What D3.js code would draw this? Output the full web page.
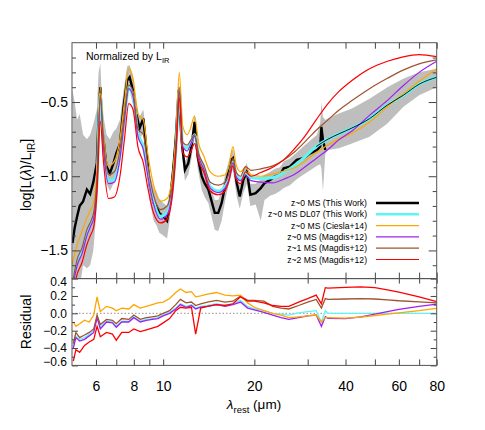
<!DOCTYPE html>
<html>
<head>
<meta charset="utf-8">
<title>SED normalized by LIR</title>
<script src="https://d3js.org/d3.v7.min.js"></script>
<style>
  body { margin: 0; background: #fff; }
  svg text { font-family: "Liberation Sans", Arial, Helvetica, sans-serif; fill: #000; }
  .axis line { stroke: #444; }
  .axis text { font-size: 14px; }
  .axis.res text { font-size: 12px; }
</style>
</head>
<body>
<div id="main"></div>
<script>
// wavelength grid of the model templates (micron)
var modelLambda = [5.0, 5.2, 5.4, 5.6, 5.75, 5.9, 6.05, 6.2, 6.35, 6.6, 6.9, 7.2, 7.45, 7.7, 7.95, 8.25, 8.6, 8.9, 9.3, 9.8,
  10.3, 10.8, 11.05, 11.3, 11.6, 12.0, 12.3, 12.7, 13.1, 13.6, 14.3, 15.2, 16.0, 16.5, 17.0, 17.4, 18.0, 18.7, 19.5, 21,
  23, 25, 27, 29, 32, 35, 38, 42, 48, 55, 62, 70, 80];
var dl07 = [-1.76, -1.58, -1.50, -1.38, -1.32, -1.26, -1.03, -0.45, -0.78, -1.03, -1.02, -0.86, -0.61, -0.40, -0.45, -0.71, -0.80, -0.98, -1.17, -1.27,
  -1.245, -1.03, -0.77, -0.42, -0.79, -0.81, -0.78, -0.72, -0.86, -0.94, -1.07, -1.10, -1.07, -1.01, -0.90, -0.99, -1.02, -0.975, -1.01, -1.015,
  -1.01, -0.975, -0.93, -0.879, -0.80, -0.75, -0.715, -0.675, -0.612, -0.52, -0.455, -0.38, -0.333];
var ciesla14 = [-1.60, -1.46, -1.37, -1.28, -1.23, -1.17, -0.95, -0.40, -0.72, -0.93, -0.90, -0.75, -0.50, -0.275, -0.34, -0.58, -0.62, -0.85, -1.06, -1.17,
  -1.15, -0.95, -0.70, -0.30, -0.66, -0.72, -0.68, -0.595, -0.78, -0.86, -0.97, -1.0, -0.99, -0.93, -0.80, -0.92, -0.97, -0.94, -0.99, -1.0,
  -0.985, -0.965, -0.945, -0.905, -0.84, -0.79, -0.75, -0.71, -0.635, -0.53, -0.445, -0.36, -0.275];
var magdisZ0 = [-1.78, -1.60, -1.52, -1.40, -1.34, -1.28, -1.05, -0.47, -0.80, -1.05, -1.04, -0.88, -0.62, -0.41, -0.46, -0.73, -0.82, -1.00, -1.19, -1.29,
  -1.26, -1.04, -0.78, -0.43, -0.80, -0.83, -0.79, -0.73, -0.87, -0.95, -1.08, -1.11, -1.08, -1.02, -0.91, -1.0, -1.03, -0.995, -1.03, -1.04,
  -1.045, -1.02, -0.99, -0.946, -0.88, -0.82, -0.755, -0.695, -0.59, -0.489, -0.39, -0.30, -0.225];
var magdisZ1 = [-1.74, -1.56, -1.48, -1.36, -1.31, -1.24, -1.0, -0.45, -0.75, -0.99, -0.97, -0.82, -0.58, -0.385, -0.43, -0.68, -0.72, -0.93, -1.13, -1.225,
  -1.20, -1.0, -0.75, -0.40, -0.77, -0.79, -0.76, -0.72, -0.85, -0.92, -1.04, -1.06, -1.04, -0.98, -0.88, -0.97, -1.0, -0.935, -0.96, -0.95,
  -0.93, -0.89, -0.84, -0.78, -0.69, -0.62, -0.555, -0.49, -0.41, -0.34, -0.285, -0.243, -0.216];
var magdisZ2 = [-1.82, -1.66, -1.58, -1.46, -1.40, -1.34, -1.10, -0.63, -0.90, -1.15, -1.14, -1.0, -0.75, -0.51, -0.55, -0.80, -0.91, -1.08, -1.25, -1.315,
  -1.29, -1.07, -0.80, -0.47, -0.84, -0.87, -0.84, -0.78, -0.90, -0.97, -1.10, -1.125, -1.10, -1.03, -0.93, -1.02, -1.05, -0.97, -1.0, -0.975,
  -0.94, -0.89, -0.82, -0.745, -0.62, -0.51, -0.43, -0.355, -0.276, -0.225, -0.195, -0.18, -0.194];

// stacked spectrum (This Work)
var dataLambda = [5.02, 5.1, 5.2, 5.3, 5.44, 5.6, 5.74, 5.88, 6.04, 6.12, 6.2, 6.3, 6.5, 6.67, 6.85, 7.0, 7.2, 7.4, 7.6, 7.75,
  7.95, 8.2, 8.35, 8.6, 8.8, 9.0, 9.3, 9.5, 9.7, 10.0, 10.3, 10.5, 10.8, 11.0, 11.25, 11.5, 11.8, 12.1, 12.4, 12.7,
  13.0, 13.4, 13.7, 14.1, 14.4, 14.8, 15.2, 15.6, 16.0, 16.4, 16.8, 17.0, 17.5, 17.9, 18.4, 18.9, 19.4, 20.2, 21.0, 21.6,
  22.6, 23.4, 24.3, 25.0, 26.2, 27.6, 29.0, 30.6, 32.2, 33.0, 33.3, 33.7, 34.3];
var dataLum = [-1.45, -1.35, -1.27, -1.20, -1.17, -1.09, -1.12, -1.04, -0.91, -0.60, -0.40, -0.69, -0.935, -0.98, -0.913, -0.846, -0.78, -0.533, -0.355, -0.333,
  -0.422, -0.60, -0.678, -0.611, -0.823, -1.047, -1.18, -1.20, -1.247, -1.27, -1.30, -1.20, -0.95, -0.75, -0.42, -0.757, -0.957, -0.913, -0.80, -0.634,
  -0.868, -1.0, -1.047, -1.09, -1.158, -1.247, -1.247, -1.18, -1.069, -0.98, -0.89, -0.879, -1.047, -1.136, -1.024, -0.969, -1.125, -1.114, -1.08, -1.047,
  -1.024, -1.0, -0.99, -0.946, -0.935, -0.89, -0.879, -0.846, -0.823, -0.80, -0.667, -0.757, -0.823];

// grey scatter band of the individual spectra
var bandLambda = [5.02, 5.1, 5.2, 5.3, 5.44, 5.6, 5.74, 5.88, 6.04, 6.12, 6.2, 6.3, 6.5, 6.67, 6.85, 7.0, 7.2, 7.4, 7.6, 7.75,
  7.95, 8.2, 8.35, 8.6, 8.8, 9.0, 9.3, 9.5, 9.7, 10.0, 10.3, 10.5, 10.8, 11.0, 11.25, 11.5, 11.8, 12.1, 12.4, 12.7,
  13.0, 13.4, 13.7, 14.1, 14.4, 14.8, 15.2, 15.6, 16.0, 16.4, 16.8, 17.0, 17.5, 17.9, 18.4, 18.9, 19.4, 20.2, 21.0, 21.6,
  22.6, 23.4, 24.3, 25.0, 26.2, 27.6, 29.0, 30.6, 32.2, 33.0, 33.3, 33.7, 34.3, 35, 38, 42, 48, 55, 62, 70, 80];
var bandHi = [-0.42, -0.50, -0.62, -0.58, -0.72, -0.75, -0.72, -0.65, -0.55, -0.30, -0.24, -0.55, -0.72, -0.75, -0.70, -0.68, -0.62, -0.42, -0.26, -0.25,
  -0.33, -0.52, -0.60, -0.55, -0.72, -0.97, -1.08, -1.10, -1.15, -1.18, -1.20, -1.10, -0.88, -0.68, -0.36, -0.68, -0.90, -0.85, -0.74, -0.58,
  -0.80, -0.93, -0.98, -1.02, -1.08, -1.16, -1.16, -1.10, -0.99, -0.91, -0.83, -0.82, -0.97, -1.06, -0.96, -0.91, -1.05, -1.05, -1.02, -0.99,
  -0.97, -0.95, -0.94, -0.90, -0.88, -0.84, -0.80, -0.76, -0.72, -0.64, -0.50, -0.60, -0.62, -0.61, -0.578, -0.544, -0.477, -0.40, -0.343, -0.299, -0.276];
var bandLo = [-1.75, -1.75, -1.75, -1.75, -1.60, -1.62, -1.60, -1.50, -1.20, -0.85, -0.55, -0.85, -1.05, -1.10, -1.05, -0.98, -0.90, -0.65, -0.45, -0.42,
  -0.52, -0.70, -0.76, -0.70, -0.92, -1.15, -1.30, -1.33, -1.38, -1.40, -1.42, -1.30, -1.05, -0.85, -0.52, -0.84, -1.03, -0.99, -0.88, -0.72,
  -0.95, -1.09, -1.14, -1.18, -1.26, -1.36, -1.37, -1.30, -1.17, -1.07, -0.97, -0.96, -1.14, -1.22, -1.11, -1.05, -1.20, -1.19, -1.30, -1.16,
  -1.13, -1.12, -1.10, -1.08, -1.06, -1.02, -0.99, -0.96, -0.93, -0.92, -0.95, -1.10, -0.85, -0.823, -0.812, -0.779, -0.734, -0.645, -0.533, -0.455, -0.40];

// residuals (model - data)
var resLambda = [5.05, 5.15, 5.3, 5.5, 5.7, 5.9, 6.05, 6.2, 6.5, 6.8, 7.0, 7.3, 7.7, 8.0, 8.4, 8.8, 9.2, 9.6, 10.0, 10.5,
  11.0, 11.4, 11.9, 12.4, 12.8, 13.3, 14.0, 15.0, 16.0, 17.0, 18.0, 19.0, 20.0, 21.5, 23, 24.5, 26, 28, 30, 32,
  33.3, 34.3, 35, 40, 45, 50, 55, 60, 70, 80];
var resCiesla14 = [-0.10, -0.15, -0.12, -0.08, -0.10, -0.02, 0.19, 0.02, 0.08, 0.06, 0.03, 0.06, 0.05, 0.10, 0.06, 0.08, 0.10, 0.12, 0.13, 0.17,
  0.24, 0.28, 0.24, 0.25, 0.19, 0.20, 0.22, 0.24, 0.21, 0.20, 0.21, 0.12, 0.07, 0.03, 0.0, -0.02, -0.05, -0.04, -0.03, -0.02,
  -0.10, -0.05, -0.05, -0.055, -0.045, -0.025, -0.01, 0.005, 0.03, 0.058];
var resDL07 = [-0.38, -0.26, -0.30, -0.28, -0.24, -0.20, -0.04, -0.16, -0.09, -0.10, -0.15, -0.09, -0.09, -0.04, -0.09, -0.07, -0.06, -0.05, -0.02, 0.01,
  0.06, 0.11, 0.08, 0.10, 0.06, 0.08, 0.09, 0.11, 0.09, 0.11, 0.15, 0.08, 0.05, 0.03, 0.0, -0.01, -0.02, 0.005, 0.02, 0.03,
  -0.10, 0.03, 0, 0, 0, 0, 0, 0, 0, 0];
var resMagdisZ0 = [-0.40, -0.28, -0.32, -0.30, -0.26, -0.22, -0.05, -0.18, -0.10, -0.11, -0.16, -0.10, -0.10, -0.05, -0.10, -0.08, -0.07, -0.06, -0.03, 0.0,
  0.05, 0.10, 0.07, 0.09, 0.05, 0.07, 0.08, 0.10, 0.08, 0.10, 0.13, 0.06, 0.04, 0.01, -0.02, -0.05, -0.07, -0.05, -0.03, -0.02,
  -0.15, -0.04, -0.058, -0.06, -0.04, -0.01, 0.02, 0.046, 0.08, 0.107];
var resMagdisZ1 = [-0.35, -0.22, -0.28, -0.25, -0.22, -0.18, -0.02, -0.13, -0.07, -0.08, -0.12, -0.06, -0.07, -0.02, -0.07, -0.05, -0.04, -0.03, 0.0, 0.03,
  0.10, 0.16, 0.12, 0.13, 0.09, 0.11, 0.13, 0.15, 0.13, 0.14, 0.20, 0.15, 0.15, 0.14, 0.08, 0.06, 0.05, 0.09, 0.13, 0.16,
  0.06, 0.17, 0.16, 0.165, 0.17, 0.165, 0.155, 0.145, 0.133, 0.12];
var resMagdisZ2 = [-0.55, -0.42, -0.45, -0.37, -0.33, -0.30, -0.15, -0.27, -0.22, -0.24, -0.31, -0.22, -0.22, -0.18, -0.21, -0.19, -0.17, -0.15, -0.11, -0.06,
  0.03, 0.07, 0.06, 0.07, -0.24, 0.06, 0.08, 0.10, 0.09, 0.11, 0.19, 0.14, 0.14, 0.12, 0.09, 0.08, 0.08, 0.13, 0.17, 0.21,
  0.11, 0.295, 0.29, 0.30, 0.305, 0.295, 0.27, 0.245, 0.19, 0.134];

// ticks and legend
var xMajorTicks = [6, 8, 10, 20, 40, 60, 80];
var xMinorTicks = [7, 9, 30, 50, 70];
var topMajorTicks = [-1.5, -1.0, -0.5];
var topMinorTicks = [-1.6, -1.4, -1.3, -1.2, -1.1, -0.9, -0.8, -0.7, -0.6, -0.4, -0.3, -0.2];
var resTicks = [0.4, 0.2, 0.0, -0.2, -0.4, -0.6];
var resMinorTicks = [0.3, 0.1, -0.1, -0.3, -0.5];
var legendLabels = ["z~0 MS (This Work)", "z~0 MS DL07 (This Work)", "z~0 MS (Ciesla+14)",
  "z~0 MS (Magdis+12)", "z~1 MS (Magdis+12)", "z~2 MS (Magdis+12)"];
var legendColors = ["#000000", "#5ff5f5", "#ffa500", "#a020f0", "#a0522d", "#ff0000"];

var svgWidth = 485, svgHeight = 430;
var left = 72, right = 436.7;
var topY = 42.7, midY = 278.6, botY = 365.4;

var svg = d3.select("#main").append("svg")
  .attr("width", svgWidth).attr("height", svgHeight);

var x = d3.scaleLog().domain([5, 80]).range([left, right]);
var yTop = d3.scaleLinear().domain([-1.69, -0.1]).range([midY, topY]);
var yRes = d3.scaleLinear().domain([-0.6, 0.4]).range([botY, midY]);

var defs = svg.append("defs");
defs.append("clipPath").attr("id", "clipTop").append("rect")
  .attr("x", left).attr("y", topY).attr("width", right - left).attr("height", midY - topY);
defs.append("clipPath").attr("id", "clipRes").append("rect")
  .attr("x", left).attr("y", midY).attr("width", right - left).attr("height", botY - midY);

var gTop = svg.append("g").attr("clip-path", "url(#clipTop)");
var gRes = svg.append("g").attr("clip-path", "url(#clipRes)");

// grey band
var band = d3.area()
  .x(function(d, i) { return x(bandLambda[i]); })
  .y0(function(d, i) { return yTop(bandLo[i]); })
  .y1(function(d, i) { return yTop(bandHi[i]); });
gTop.append("path").attr("d", band(bandLambda))
  .style("fill", "#bebebe").style("stroke", "none");

function lineOf(xs, ys, yScale, curve) {
  return d3.line()
    .x(function(d, i) { return x(xs[i]); })
    .y(function(d, i) { return yScale(ys[i]); })
    .curve(curve)(xs);
}

// stacked data
gTop.append("path").attr("d", lineOf(dataLambda, dataLum, yTop, d3.curveLinear))
  .style("fill", "none").style("stroke", "#000").style("stroke-width", 2.4)
  .style("stroke-linejoin", "miter");

var models = [
  { ys: dl07, color: legendColors[1], w: 3 },
  { ys: ciesla14, color: legendColors[2], w: 1.2 },
  { ys: magdisZ0, color: legendColors[3], w: 1.2 },
  { ys: magdisZ1, color: legendColors[4], w: 1.2 },
  { ys: magdisZ2, color: legendColors[5], w: 1.2 }
];
models.forEach(function(m) {
  gTop.append("path").attr("d", lineOf(modelLambda, m.ys, yTop, d3.curveMonotoneX))
    .style("fill", "none").style("stroke", m.color).style("stroke-width", m.w);
});

// DL07 fit continues the data into the far-IR: thin black core
var firIdx = modelLambda.map(function(l, i) { return i; }).filter(function(i) { return modelLambda[i] >= 32; });
gTop.append("path")
  .attr("d", lineOf(firIdx.map(function(i) { return modelLambda[i]; }), firIdx.map(function(i) { return dl07[i]; }), yTop, d3.curveMonotoneX))
  .style("fill", "none").style("stroke", "#000").style("stroke-width", 0.9);

// residual panel
gRes.append("line").attr("x1", left).attr("x2", right).attr("y1", yRes(0)).attr("y2", yRes(0))
  .style("stroke", "#777").style("stroke-width", 0.8).style("stroke-dasharray", "1.5,2");
var resSeries = [
  { ys: resDL07, color: legendColors[1] },
  { ys: resMagdisZ0, color: legendColors[3] },
  { ys: resMagdisZ1, color: legendColors[4] },
  { ys: resCiesla14, color: legendColors[2] },
  { ys: resMagdisZ2, color: legendColors[5] }
];
resSeries.forEach(function(r) {
  gRes.append("path").attr("d", lineOf(resLambda, r.ys, yRes, d3.curveLinear))
    .style("fill", "none").style("stroke", r.color).style("stroke-width", 1.3);
});

// axes
function addAxis(gen, tx, ty, cls) {
  svg.append("g").attr("class", "axis " + (cls || "")).attr("transform", "translate(" + tx + "," + ty + ")")
    .call(gen).call(function(g) { g.select(".domain").remove(); });
}
var noLabel = function() { return ""; };
// x ticks
addAxis(d3.axisTop(x).tickValues(xMajorTicks.concat(xMinorTicks)).tickSize(-6).tickFormat(noLabel), 0, topY);
addAxis(d3.axisBottom(x).tickValues(xMajorTicks.concat(xMinorTicks)).tickSize(-6).tickFormat(noLabel), 0, midY);
addAxis(d3.axisTop(x).tickValues(xMajorTicks.concat(xMinorTicks)).tickSize(-5).tickFormat(noLabel), 0, midY);
addAxis(d3.axisBottom(x).tickValues(xMinorTicks).tickSize(-6).tickFormat(noLabel), 0, botY);
addAxis(d3.axisBottom(x).tickValues(xMajorTicks).tickSize(-6).tickPadding(16).tickFormat(d3.format("d")), 0, botY);
// y ticks top panel
addAxis(d3.axisLeft(yTop).tickValues(topMajorTicks).tickSize(-8).tickPadding(4).tickFormat(d3.format(".1f")), left, 0);
addAxis(d3.axisLeft(yTop).tickValues(topMinorTicks).tickSize(-4).tickFormat(noLabel), left, 0);
addAxis(d3.axisRight(yTop).tickValues(topMajorTicks).tickSize(-8).tickFormat(noLabel), right, 0);
addAxis(d3.axisRight(yTop).tickValues(topMinorTicks).tickSize(-4).tickFormat(noLabel), right, 0);
// y ticks residual panel
addAxis(d3.axisLeft(yRes).tickValues(resTicks).tickSize(-6).tickPadding(5).tickFormat(d3.format(".1f")), left, 0, "res");
addAxis(d3.axisLeft(yRes).tickValues(resMinorTicks).tickSize(-3).tickFormat(noLabel), left, 0);
addAxis(d3.axisRight(yRes).tickValues(resTicks).tickSize(-6).tickFormat(noLabel), right, 0);
addAxis(d3.axisRight(yRes).tickValues(resMinorTicks).tickSize(-3).tickFormat(noLabel), right, 0);

// nudge the end labels of the residual axis slightly inside the panel
svg.selectAll(".axis.res text").filter(function(d) { return d === 0.4; }).attr("dy", "0.6em");
svg.selectAll(".axis.res text").filter(function(d) { return d === -0.6; }).attr("dy", "0.04em");

// frames
[[topY, midY], [midY, botY]].forEach(function(p) {
  svg.append("rect").attr("x", left).attr("y", p[0]).attr("width", right - left).attr("height", p[1] - p[0])
    .style("fill", "none").style("stroke", "#555").style("stroke-width", 1);
});

// panel note
var note = svg.append("text").attr("x", 86).attr("y", 60).style("font-size", "10.5px");
note.append("tspan").text("Normalized by L");
note.append("tspan").attr("dy", 3).style("font-size", "7.5px").text("IR");

// legend
var legend = svg.append("g").attr("transform", "translate(0,203)");
legendLabels.forEach(function(lab, i) {
  var row = legend.append("g").attr("transform", "translate(0," + (i * 11.3) + ")");
  row.append("text").attr("x", 367).attr("y", 0).attr("dy", "0.35em")
    .attr("text-anchor", "end").style("font-size", "8.6px").text(lab);
  row.append("line").attr("x1", 376).attr("x2", 419).attr("y1", 0).attr("y2", 0)
    .style("stroke", legendColors[i]).style("stroke-width", i < 2 ? 2.6 : 1.2);
});

// axis titles
var yt = svg.append("text").attr("transform", "translate(31,175) rotate(-90)")
  .attr("text-anchor", "middle").style("font-size", "14px");
yt.append("tspan").text("log[L(");
yt.append("tspan").style("font-style", "italic").text("\u03bb");
yt.append("tspan").text(")/L");
yt.append("tspan").attr("dy", 4).style("font-size", "10px").text("IR");
yt.append("tspan").attr("dy", -4).text("]");

svg.append("text").attr("transform", "translate(31,322) rotate(-90)")
  .attr("text-anchor", "middle").style("font-size", "14px").text("Residual");

var xt = svg.append("text").attr("x", 254).attr("y", 409).attr("text-anchor", "middle").style("font-size", "13.5px");
xt.append("tspan").style("font-style", "italic").text("\u03bb");
xt.append("tspan").attr("dy", 4).style("font-size", "9.5px").text("rest");
xt.append("tspan").attr("dy", -4).text(" (\u03bcm)");
</script>
</body>
</html>
